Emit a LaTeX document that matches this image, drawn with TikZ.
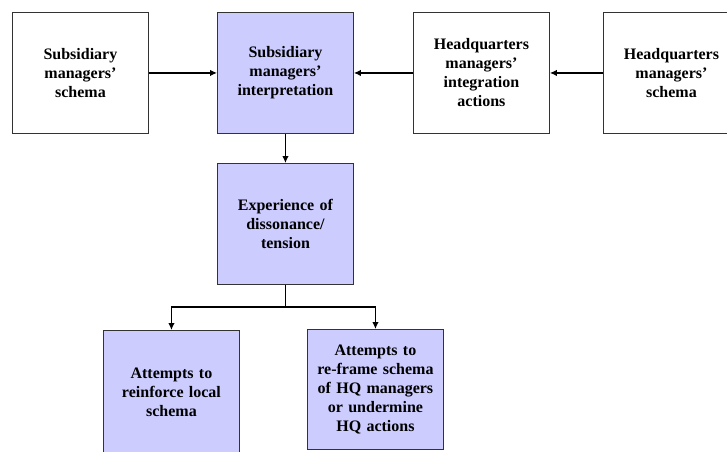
\documentclass[tikz,border=0pt]{standalone}
\usepackage{fontspec}
\setmainfont{Liberation Serif}
\usetikzlibrary{arrows.meta}
\definecolor{lav}{RGB}{204,204,255}
\begin{document}
\begin{tikzpicture}[x=1pt,y=-1pt,
  box/.style={draw=black!80, line width=0.9pt, rectangle, minimum width=136pt,
    minimum height=121pt, text width=128pt, align=center, inner sep=0pt,
    font=\fontsize{16}{19}\selectfont\bfseries, anchor=north west},
  plain/.style={box, fill=white},
  shaded/.style={box, fill=lav},
  link/.style={line width=1.3pt, -{Latex[length=7pt,width=6.5pt]}}]
\useasboundingbox (0,0) rectangle (727,451);
\clip (0,0) rectangle (727,451);

% top row
\node[plain]  (ss) at (12,12)  {Subsidiary\\managers’\\schema};
\node[shaded] (si) at (217,12) {Subsidiary\\managers’\\interpretation};
\node[plain]  (ha) at (413,12) {Headquarters\\managers’\\integration\\actions};
\node[plain]  (hs) at (603,12) {Headquarters\\managers’\\schema};

% middle
\node[shaded] (ex) at (217,163) {Experience of\\dissonance/\\tension};

% bottom row
\node[shaded, minimum height=124pt] (rl) at (103,330) {Attempts to\\reinforce local\\schema};
\node[shaded, minimum height=120pt] (rf) at (307,329) {Attempts to\\re-frame schema\\of HQ managers\\or undermine\\HQ actions};

% connectors
\draw[link] (ss) -- (si);
\draw[link] (ha) -- (si);
\draw[link] (hs) -- (ha);
\draw[link] (si) -- (ex);
\draw[line width=1.3pt] (ex.south) -- ++(0,22) coordinate (fork);
\draw[link] (fork) -| (rl.north);
\draw[link] (fork) -| (rf.north);
\end{tikzpicture}
\end{document}
